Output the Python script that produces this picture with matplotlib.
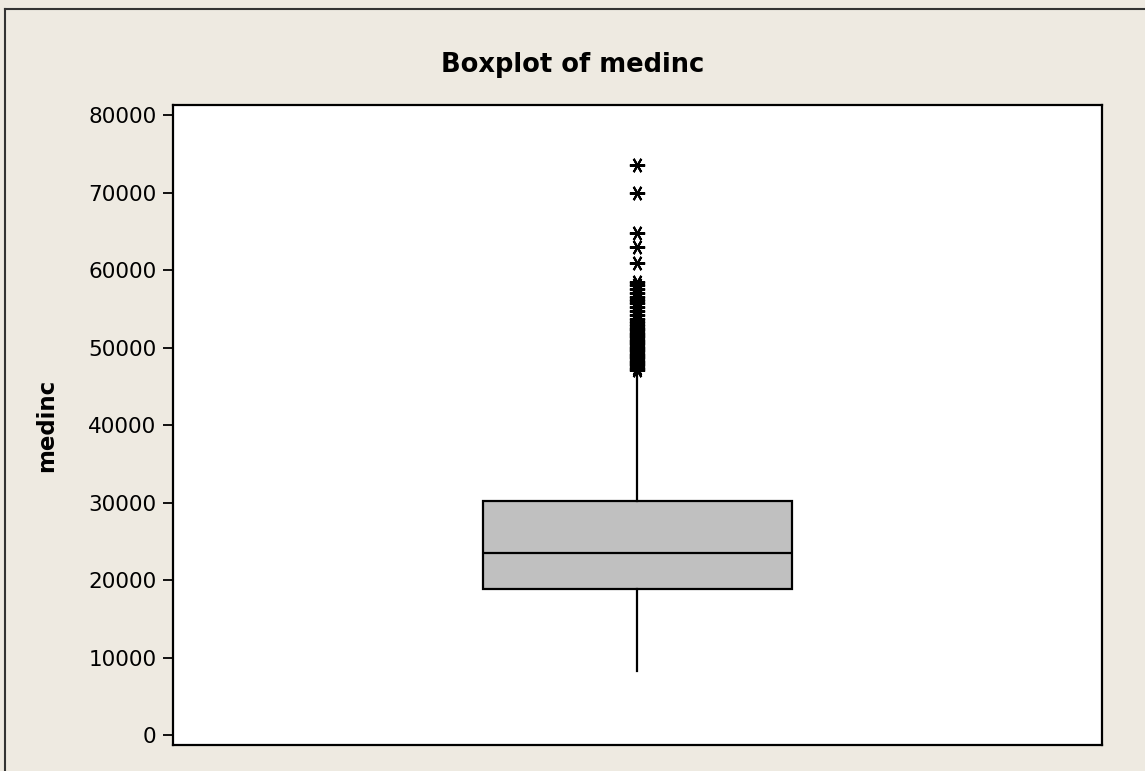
import matplotlib.pyplot as plt
from matplotlib.lines import Line2D

# box statistics for medinc
variable = "medinc"
whisker_low = 8300
q1 = 18850
median = 23450
q3 = 30200
whisker_high = 46700
outliers = [73500, 69900, 64800, 63000, 60900, 58500, 58100, 57600, 57000,
            56500, 56100, 55700, 55200, 54700, 54200, 53700, 53300, 52900,
            52500, 52200, 51900, 51600, 51300, 51000, 50700, 50400, 50100,
            49800, 49500, 49200, 48900, 48600, 48300, 48000, 47700, 47400,
            47100]
yticks = [0, 10000, 20000, 30000, 40000, 50000, 60000, 70000, 80000]

bg = "#EEEAE1"
fig = plt.figure(figsize=(11.45, 7.71), dpi=100, facecolor=bg)
ax = fig.add_axes([0.1511, 0.0337, 0.8113, 0.8301])

stats = [dict(med=median, q1=q1, q3=q3, whislo=whisker_low, whishi=whisker_high,
              fliers=outliers, label=variable)]
ax.bxp(stats, positions=[0.5], widths=0.333, patch_artist=True, showcaps=False,
       boxprops=dict(facecolor="#C0C0C0", edgecolor="black", linewidth=1.6),
       medianprops=dict(color="black", linewidth=1.6),
       whiskerprops=dict(color="black", linewidth=1.6),
       flierprops=dict(marker=(6, 2, 90), markersize=11, markeredgecolor="black",
                       markeredgewidth=1.5, linestyle="none"))

ax.set_xlim(0, 1)
ax.set_ylim(-1290, 81290)
ax.set_xticks([])
ax.set_yticks(yticks)
ax.set_yticklabels([str(v) for v in yticks])
ax.tick_params(axis="y", direction="out", length=7, width=1.3, labelsize=15.5, pad=5)
for s in ax.spines.values():
    s.set_linewidth(1.6)
    s.set_color("black")

ax.set_ylabel(variable, fontsize=16.5, fontweight="bold")
ax.yaxis.set_label_coords(-0.124, 0.5)
fig.text(0.5, 0.9157, "Boxplot of " + variable, ha="center", va="center",
         fontsize=18.5, fontweight="bold")

# outer frame (top and left edges only visible)
fig.add_artist(Line2D([5 / 1145, 5 / 1145], [0, 1 - 9 / 771], color="#333333", lw=1.5))
fig.add_artist(Line2D([5 / 1145, 1], [1 - 9 / 771, 1 - 9 / 771], color="#333333", lw=1.5))

fig.savefig("out.png", dpi=100, facecolor=bg)
